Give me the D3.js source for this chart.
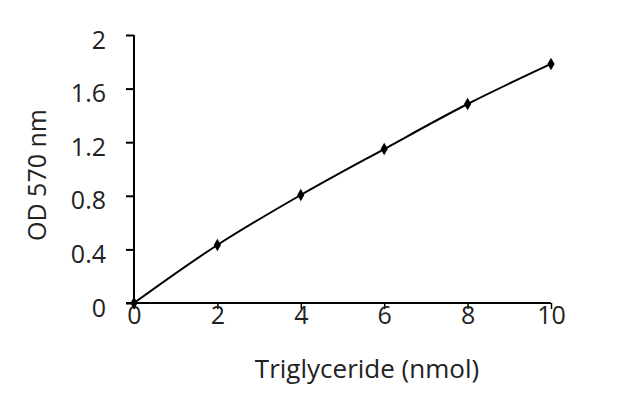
<!DOCTYPE html>
<html><head><meta charset="utf-8">
<script src="https://cdn.jsdelivr.net/npm/d3@7"></script>
<style>body{margin:0;background:#fff}svg{display:block}text{font-family:"Open Sans","Liberation Sans",sans-serif;fill:#222}</style>
</head><body><svg id="c" width="640" height="415"></svg>
<script>
const xValues = [0, 2, 4, 6, 8, 10];
const odValues = [0, 0.433, 0.806, 1.149, 1.485, 1.784];
const xTicks = [0, 2, 4, 6, 8, 10];
const yTicks = [0, 0.4, 0.8, 1.2, 1.6, 2];
const xTitle = "Triglyceride (nmol)";
const yTitle = "OD 570 nm";

const svg = d3.select("#c");
const x = d3.scaleLinear().domain([0, 10]).range([134, 551]);
const y = d3.scaleLinear().domain([0, 2]).range([303, 35]);

const gy = svg.append("g").attr("transform", "translate(134,0)")
  .call(d3.axisLeft(y).tickValues(yTicks).tickFormat(d => d).tickSize(8).tickSizeOuter(0).tickPadding(20));
gy.select(".domain").attr("stroke", "#000").attr("stroke-width", 2).attr("d", `M0,${y(2)}V${y(0)}`);
gy.selectAll(".tick line").attr("stroke", "#000").attr("stroke-width", 2);
gy.selectAll(".tick text").style("font-size", "25px").attr("dy", "0.52em").attr("fill", "#222");

const gx = svg.append("g").attr("transform", "translate(0,303)")
  .call(d3.axisBottom(x).tickValues(xTicks).tickFormat(d => d).tickSize(6).tickSizeOuter(0));
gx.select(".domain").attr("stroke", "#000").attr("stroke-width", 2).attr("d", `M${x(0)-8},0H${x(10)}`);
gx.selectAll(".tick line").attr("stroke", "#000").attr("stroke-width", 1.5);
gx.selectAll(".tick text").style("font-size", "25px").attr("y", 3).attr("fill", "#222");

const pts = xValues.map((v, i) => [v, odValues[i]]);
svg.append("path").datum(pts)
  .attr("fill", "none").attr("stroke", "#000").attr("stroke-width", 2)
  .attr("d", d3.line().x(d => x(d[0])).y(d => y(d[1])).curve(d3.curveCatmullRom));

svg.selectAll(".m").data(pts).join("path").attr("class", "m")
  .attr("transform", d => `translate(${x(d[0])},${y(d[1])})`)
  .attr("d", d3.symbol(d3.symbolDiamond, 45)).attr("fill", "#000");

svg.append("text").attr("x", 367).attr("y", 378).attr("text-anchor", "middle")
  .style("font-size", "26px").text(xTitle);
svg.append("text").attr("transform", "translate(46,175) rotate(-90)").attr("text-anchor", "middle")
  .style("font-size", "25px").text(yTitle);
</script></body></html>
